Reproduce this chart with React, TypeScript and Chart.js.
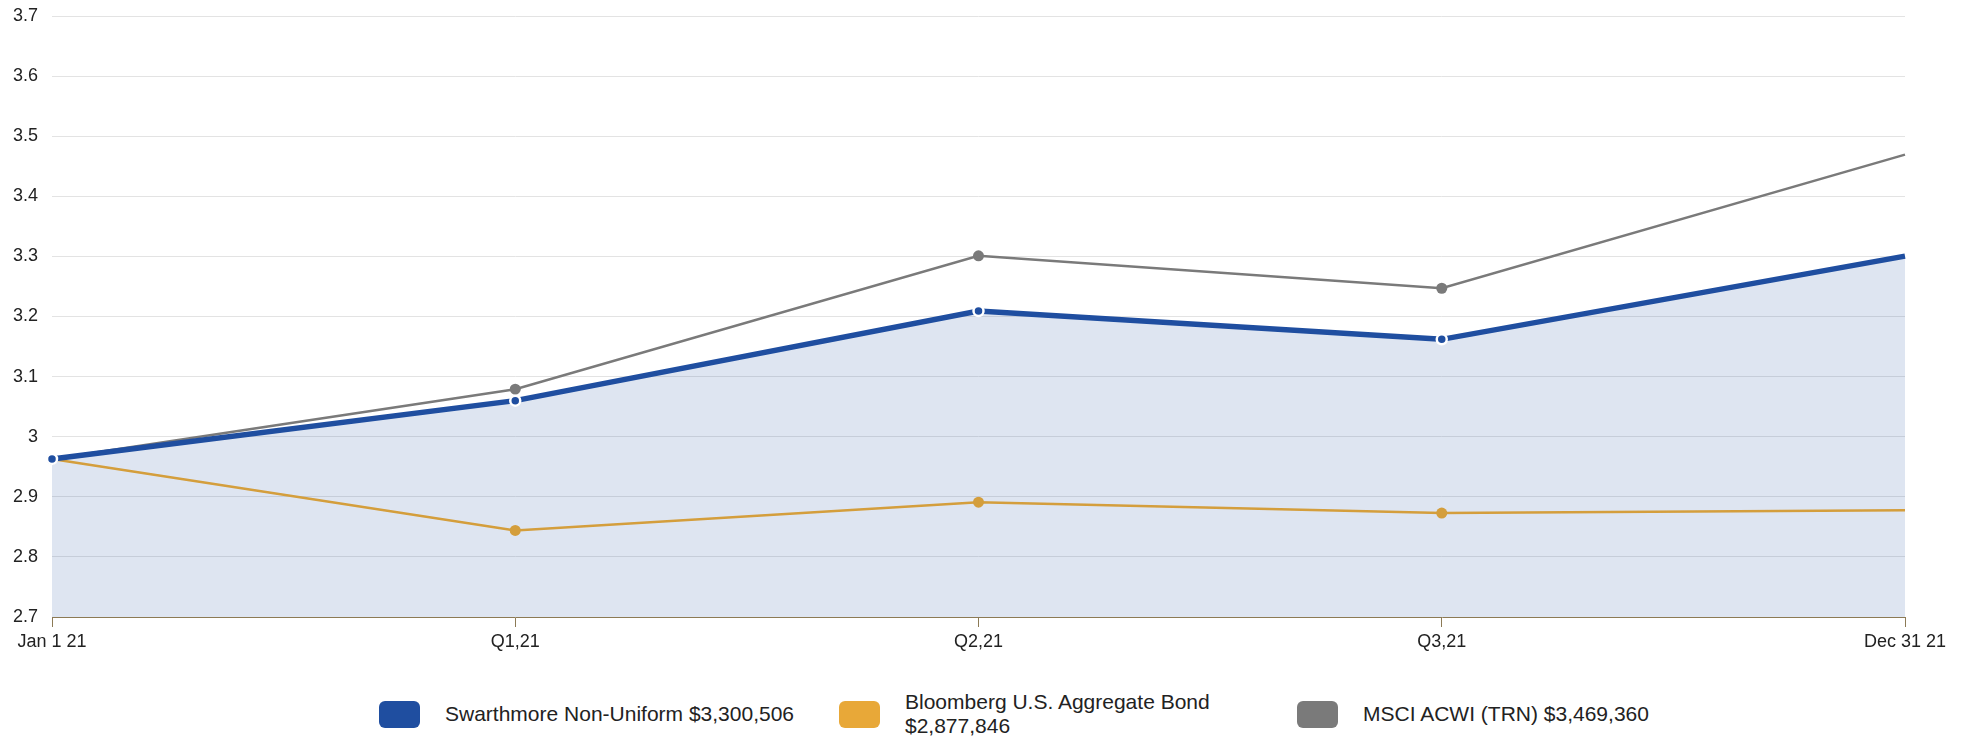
import React, { useEffect, useRef } from "react";
import { Chart, registerables } from "chart.js";

Chart.register(...registerables);

const categories = ["Jan 1 21", "Q1,21", "Q2,21", "Q3,21", "Dec 31 21"];
const swarthmore = [2.963, 3.06, 3.209, 3.162, 3.3005];
const bloomberg = [2.963, 2.844, 2.891, 2.873, 2.8778];
const msci = [2.963, 3.079, 3.301, 3.247, 3.4694];
const yMin = 2.7;
const yMax = 3.7;
const yStep = 0.1;

const legendItems = [
  { label: "Swarthmore Non-Uniform $3,300,506", color: "#1f4ea0" },
  { label: "Bloomberg U.S. Aggregate Bond $2,877,846", color: "#e8a838" },
  { label: "MSCI ACWI (TRN) $3,469,360", color: "#7a7a7a" },
];

const FONT = "'Liberation Sans', Arial, Helvetica, sans-serif";

export default function App() {
  const canvasRef = useRef<HTMLCanvasElement | null>(null);

  useEffect(() => {
    if (!canvasRef.current) return;
    const chart = new Chart(canvasRef.current, {
      type: "line",
      data: {
        labels: categories,
        datasets: [
          {
            label: legendItems[0].label,
            data: swarthmore,
            borderColor: "#1f4ea0",
            borderWidth: 5.5,
            backgroundColor: "rgba(31,78,158,0.15)",
            fill: "origin",
            pointRadius: [5, 5, 5, 5, 0],
            pointBorderWidth: 2.5,
            pointBorderColor: "#ffffff",
            pointBackgroundColor: "#1f4ea0",
            tension: 0,
          },
          {
            label: legendItems[1].label,
            data: bloomberg,
            borderColor: "#d49e3c",
            borderWidth: 2.5,
            fill: false,
            pointRadius: [5.5, 5.5, 5.5, 5.5, 0],
            pointBorderWidth: 0,
            pointBackgroundColor: "#d49e3c",
            tension: 0,
          },
          {
            label: legendItems[2].label,
            data: msci,
            borderColor: "#7a7a7a",
            borderWidth: 2.5,
            fill: false,
            pointRadius: [5.5, 5.5, 5.5, 5.5, 0],
            pointBorderWidth: 0,
            pointBackgroundColor: "#7a7a7a",
            tension: 0,
          },
        ],
      },
      options: {
        animation: false,
        responsive: true,
        maintainAspectRatio: false,
        layout: { padding: { left: 0, right: 69, top: 16, bottom: 0 } },
        plugins: {
          legend: { display: false },
          tooltip: { enabled: false },
          filler: { drawTime: "beforeDatasetsDraw" },
        },
        scales: {
          x: {
            type: "category",
            offset: false,
            grid: {
              drawOnChartArea: false,
              drawTicks: true,
              tickLength: 10,
              color: "#8c7a55",
            },
            border: { display: true, color: "#8c7a55", width: 1 },
            ticks: {
              font: { family: FONT, size: 18 },
              color: "#222222",
              padding: 4,
              maxRotation: 0,
              autoSkip: false,
            },
            afterFit: (scale: any) => {
              scale.height = 63;
              scale.paddingLeft = 0;
              scale.paddingRight = 0;
            },
          },
          y: {
            min: yMin,
            max: yMax,
            grid: { color: "#e3e3e3", drawTicks: false, lineWidth: 1 },
            border: { display: false },
            ticks: {
              stepSize: yStep,
              padding: 14,
              font: { family: FONT, size: 18 },
              color: "#222222",
              callback: (v: any) => String(Number(Number(v).toFixed(1))),
            },
            afterFit: (scale: any) => {
              scale.width = 52;
              scale.paddingTop = 0;
              scale.paddingBottom = 0;
            },
          },
        },
      },
    });
    return () => chart.destroy();
  }, []);

  const boxLefts = [379, 839, 1297];

  return (
    <div
      style={{
        position: "absolute",
        left: 0,
        top: 0,
        width: 1974,
        height: 738,
        background: "#ffffff",
        fontFamily: FONT,
        overflow: "hidden",
      }}
    >
      <div style={{ position: "absolute", left: 0, top: 0, width: 1974, height: 680 }}>
        <canvas ref={canvasRef} />
      </div>
      <div style={{ position: "absolute", left: 0, top: 690, width: 1974, height: 48 }}>
        {legendItems.map((item, i) => (
          <div
            key={item.label}
            style={{
              position: "absolute",
              left: boxLefts[i],
              top: 0,
              height: 48,
              display: "flex",
              alignItems: "center",
            }}
          >
            <div
              style={{
                width: 41,
                height: 27,
                borderRadius: 6,
                background: item.color,
                flex: "0 0 auto",
              }}
            />
            <div
              style={{
                marginLeft: 25,
                width: 390,
                fontSize: 21,
                lineHeight: "24px",
                color: "#222222",
              }}
            >
              {item.label}
            </div>
          </div>
        ))}
      </div>
    </div>
  );
}
